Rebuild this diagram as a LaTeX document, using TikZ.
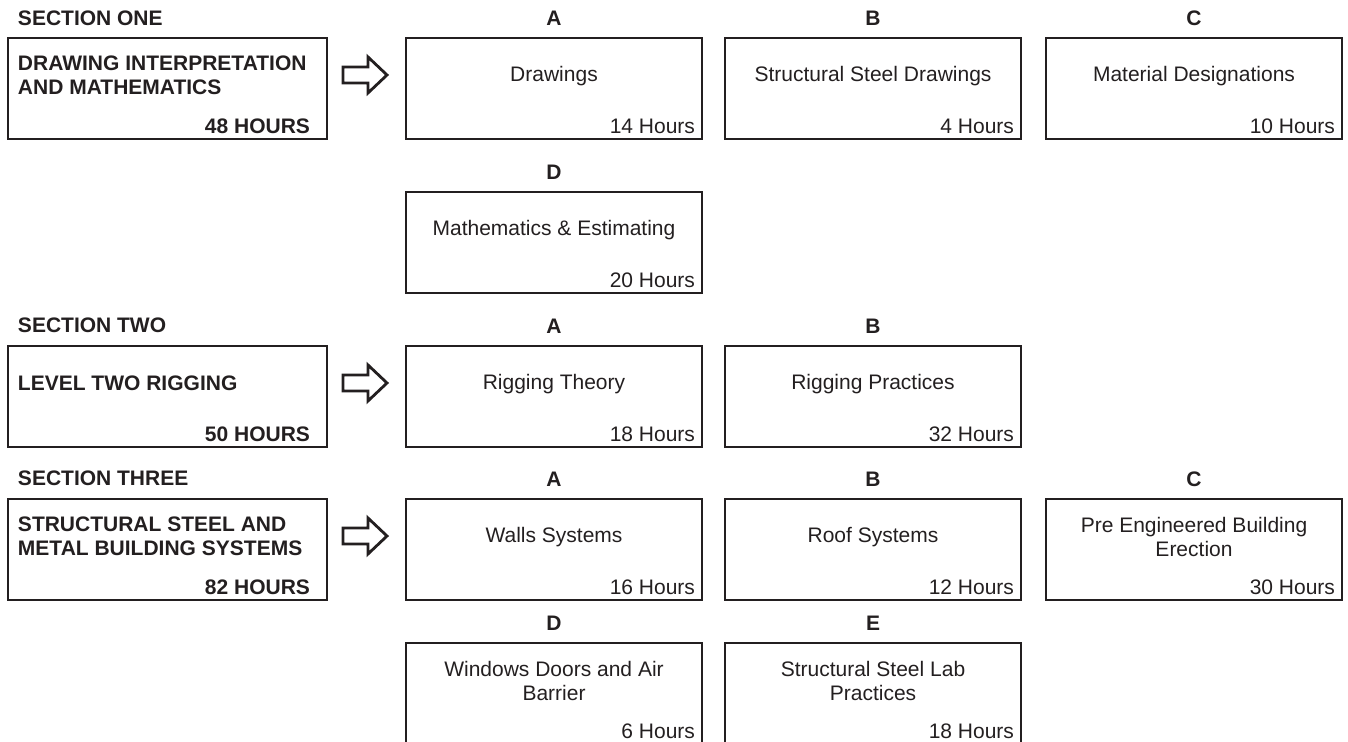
\documentclass[tikz,border=0pt]{standalone}
\usepackage{fontspec}
\setmainfont{Liberation Sans}
\usetikzlibrary{positioning, calc}
\definecolor{ink}{RGB}{35,31,32}

\begin{document}
\begin{tikzpicture}[x=0.5pt, y=-0.5pt, line width=1pt, draw=ink, text=ink,
    font=\fontsize{10.5}{12}\selectfont,
    secbox/.style={draw, minimum width=159.5pt, minimum height=50.5pt, inner sep=0pt, anchor=north west},
    itembox/.style={draw, minimum width=148pt, minimum height=50.5pt, inner sep=0pt, anchor=north west},
    lbl/.style={font=\fontsize{10.5}{12}\selectfont\bfseries, inner sep=0pt},
    sectitle/.style={lbl, anchor=west, align=left},
    itemtitle/.style={inner sep=0pt, align=center},
    hrs/.style={inner sep=0pt, anchor=east},
    blockarrow/.style={draw, fill=white, line width=1.4pt, line join=miter}]
    \clip (0,0) rectangle (1348,742);

    % Section one
    \node[secbox] (s1) at (7,37) {};
    \node[lbl, anchor=west] (s1l) at ($(s1.north west)+(10,-19)$) {SECTION ONE};
    \node[sectitle] (s1t) at ($(s1.north west)+(10,38)$) {DRAWING INTERPRETATION\\AND MATHEMATICS};
    \node[lbl, anchor=east] (s1h) at ($(s1.south east)+(-17,-14)$) {48 HOURS};
    \coordinate (ar1) at (365,75);
    \draw[blockarrow] (ar1) ++(-22,-8) -- ++(25,0) -- ++(0,-10) -- ++(19,18) -- ++(-19,18) -- ++(0,-10) -- ++(-25,0) -- cycle;

    % Section one: units
    \node[itembox] (s1a) at (405,37) {};
    \node[itembox] (s1b) at (724,37) {};
    \node[itembox] (s1c) at (1045,37) {};
    \node[itembox] (s1d) at (405,191) {};
    \node[lbl] at ($(s1a.north)+(0,-19)$) {A};
    \node[lbl] at ($(s1b.north)+(0,-19)$) {B};
    \node[lbl] at ($(s1c.north)+(0,-19)$) {C};
    \node[lbl] at ($(s1d.north)+(0,-19)$) {D};
    \node[itemtitle] at ($(s1a.north)+(0,39)$) {Drawings};
    \node[itemtitle] at ($(s1b.north)+(0,39)$) {Structural Steel Drawings};
    \node[itemtitle] at ($(s1c.north)+(0,39)$) {Material Designations};
    \node[itemtitle] at ($(s1d.north)+(0,39)$) {Mathematics \& Estimating};
    \node[hrs] at ($(s1a.south east)+(-7,-14)$) {14 Hours};
    \node[hrs] at ($(s1b.south east)+(-7,-14)$) {4 Hours};
    \node[hrs] at ($(s1c.south east)+(-7,-14)$) {10 Hours};
    \node[hrs] at ($(s1d.south east)+(-7,-14)$) {20 Hours};

    % Section two
    \node[secbox] (s2) at (7,345) {};
    \node[lbl, anchor=west] (s2l) at ($(s2.north west)+(10,-20)$) {SECTION TWO};
    \node[sectitle] (s2t) at ($(s2.north west)+(10,38)$) {LEVEL TWO RIGGING};
    \node[lbl, anchor=east] (s2h) at ($(s2.south east)+(-17,-14)$) {50 HOURS};
    \coordinate (ar2) at (365,383);
    \draw[blockarrow] (ar2) ++(-22,-8) -- ++(25,0) -- ++(0,-10) -- ++(19,18) -- ++(-19,18) -- ++(0,-10) -- ++(-25,0) -- cycle;

    % Section two: units
    \node[itembox] (s2a) at (405,345) {};
    \node[itembox] (s2b) at (724,345) {};
    \node[lbl] at ($(s2a.north)+(0,-19)$) {A};
    \node[lbl] at ($(s2b.north)+(0,-19)$) {B};
    \node[itemtitle] at ($(s2a.north)+(0,39)$) {Rigging Theory};
    \node[itemtitle] at ($(s2b.north)+(0,39)$) {Rigging Practices};
    \node[hrs] at ($(s2a.south east)+(-7,-14)$) {18 Hours};
    \node[hrs] at ($(s2b.south east)+(-7,-14)$) {32 Hours};

    % Section three
    \node[secbox] (s3) at (7,498) {};
    \node[lbl, anchor=west] (s3l) at ($(s3.north west)+(10,-20)$) {SECTION THREE};
    \node[sectitle] (s3t) at ($(s3.north west)+(10,38)$) {STRUCTURAL STEEL AND\\METAL BUILDING SYSTEMS};
    \node[lbl, anchor=east] (s3h) at ($(s3.south east)+(-17,-14)$) {82 HOURS};
    \coordinate (ar3) at (365,536);
    \draw[blockarrow] (ar3) ++(-22,-8) -- ++(25,0) -- ++(0,-10) -- ++(19,18) -- ++(-19,18) -- ++(0,-10) -- ++(-25,0) -- cycle;

    % Section three: units
    \node[itembox] (s3a) at (405,498) {};
    \node[itembox] (s3b) at (724,498) {};
    \node[itembox] (s3c) at (1045,498) {};
    \node[itembox] (s3d) at (405,642) {};
    \node[itembox] (s3e) at (724,642) {};
    \node[lbl] at ($(s3a.north)+(0,-19)$) {A};
    \node[lbl] at ($(s3b.north)+(0,-19)$) {B};
    \node[lbl] at ($(s3c.north)+(0,-19)$) {C};
    \node[lbl] at ($(s3d.north)+(0,-19)$) {D};
    \node[lbl] at ($(s3e.north)+(0,-19)$) {E};
    \node[itemtitle] at ($(s3a.north)+(0,39)$) {Walls Systems};
    \node[itemtitle] at ($(s3b.north)+(0,39)$) {Roof Systems};
    \node[itemtitle] at ($(s3c.north)+(0,39)$) {Pre Engineered Building\\Erection};
    \node[itemtitle] at ($(s3d.north)+(0,39)$) {Windows Doors and Air\\Barrier};
    \node[itemtitle] at ($(s3e.north)+(0,39)$) {Structural Steel Lab\\Practices};
    \node[hrs] at ($(s3a.south east)+(-7,-14)$) {16 Hours};
    \node[hrs] at ($(s3b.south east)+(-7,-14)$) {12 Hours};
    \node[hrs] at ($(s3c.south east)+(-7,-14)$) {30 Hours};
    \node[hrs] at ($(s3d.south east)+(-7,-14)$) {6 Hours};
    \node[hrs] at ($(s3e.south east)+(-7,-14)$) {18 Hours};
\end{tikzpicture}
\end{document}
